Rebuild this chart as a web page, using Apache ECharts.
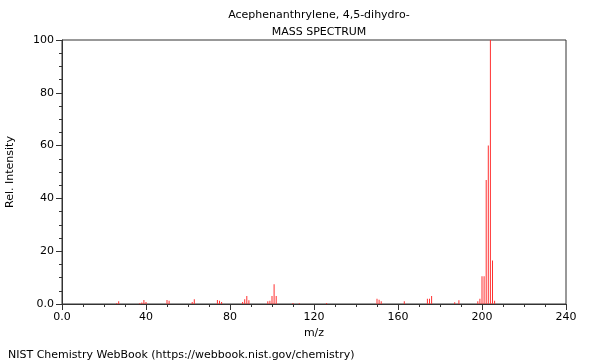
<!DOCTYPE html>
<html><head><meta charset="utf-8">
<script src="https://cdn.jsdelivr.net/npm/echarts@6/dist/echarts.min.js"></script>
<style>html,body{margin:0;padding:0;background:#fff}#c{width:600px;height:360px}</style>
</head><body><div id="c"></div>
<script>
const mz =        [26, 27, 37, 38, 39, 40, 50, 51, 62, 63, 74, 75, 76, 86, 87, 88, 89, 98, 99, 100, 101, 102, 110, 113, 126, 150, 151, 152, 163, 174, 175, 176, 187, 189, 198, 199, 200, 201, 202, 203, 204, 205, 206];
const intensity = [0.3, 1.0, 0.3, 0.6, 1.5, 0.8, 1.5, 1.2, 0.8, 1.8, 1.5, 1.2, 0.8, 0.8, 1.8, 3.0, 1.4, 1.0, 1.2, 3.0, 7.5, 3.0, 0.4, 0.3, 0.4, 2.0, 1.6, 1.0, 1.0, 2.0, 2.0, 3.0, 0.7, 1.4, 1.0, 2.0, 10.5, 10.5, 47, 60, 100, 16.5, 1.2];
const xTicks = [0, 40, 80, 120, 160, 200, 240];
const yTicks = [0, 20, 40, 60, 80, 100];

const chart = echarts.init(document.getElementById('c'));
const font = 'DejaVu Sans';
chart.setOption({
  animation: false,
  textStyle: {fontFamily: font},
  title: [
    {text: 'Acephenanthrylene, 4,5-dihydro-', left: 314, top: 5, textAlign: 'center',
     textStyle: {fontSize: 11, fontWeight: 'normal', color: '#000', fontFamily: font}},
    {text: 'MASS SPECTRUM', left: 314, top: 22, textAlign: 'center',
     textStyle: {fontSize: 11, fontWeight: 'normal', color: '#000', fontFamily: font}},
    {text: 'NIST Chemistry WebBook (https://webbook.nist.gov/chemistry)', left: 3, top: 345,
     textStyle: {fontSize: 11, fontWeight: 'normal', color: '#000', fontFamily: font}}
  ],
  grid: {left: 62, right: 34, top: 40, bottom: 56, containLabel: false, outerBoundsMode: 'none',
         show: true, borderColor: '#333', borderWidth: 1, backgroundColor: 'transparent'},
  xAxis: {
    type: 'value', min: xTicks[0], max: xTicks[xTicks.length-1], interval: 40,
    name: 'm/z', nameLocation: 'middle', nameGap: 23,
    nameTextStyle: {fontSize: 11, color: '#000', fontFamily: font},
    axisLine: {show: true, lineStyle: {color: '#333'}},
    axisTick: {show: true, length: 6, lineStyle: {color: '#333'}},
    minorTick: {show: true, splitNumber: 4, length: 3, lineStyle: {color: '#333'}},
    splitLine: {show: false},
    axisLabel: {fontSize: 11, color: '#000', margin: 8, fontFamily: font,
      formatter: v => v === 0 ? '0.0' : String(v)}
  },
  yAxis: {
    type: 'value', min: yTicks[0], max: yTicks[yTicks.length-1], interval: 20,
    name: 'Rel. Intensity', nameLocation: 'middle', nameGap: 46,
    nameTextStyle: {fontSize: 11, color: '#000', fontFamily: font},
    axisLine: {show: true, lineStyle: {color: '#333'}},
    axisTick: {show: true, length: 6, lineStyle: {color: '#333'}},
    minorTick: {show: true, splitNumber: 4, length: 3, lineStyle: {color: '#333'}},
    splitLine: {show: false},
    axisLabel: {fontSize: 11, color: '#000', margin: 8, fontFamily: font,
      formatter: v => v === 0 ? '0.0' : String(v)}
  },
  series: [{
    type: 'bar', barWidth: 1, barGap: '0%',
    itemStyle: {color: '#ff3030'},
    data: mz.map((m, i) => [m, intensity[i]])
  }]
});
</script></body></html>
